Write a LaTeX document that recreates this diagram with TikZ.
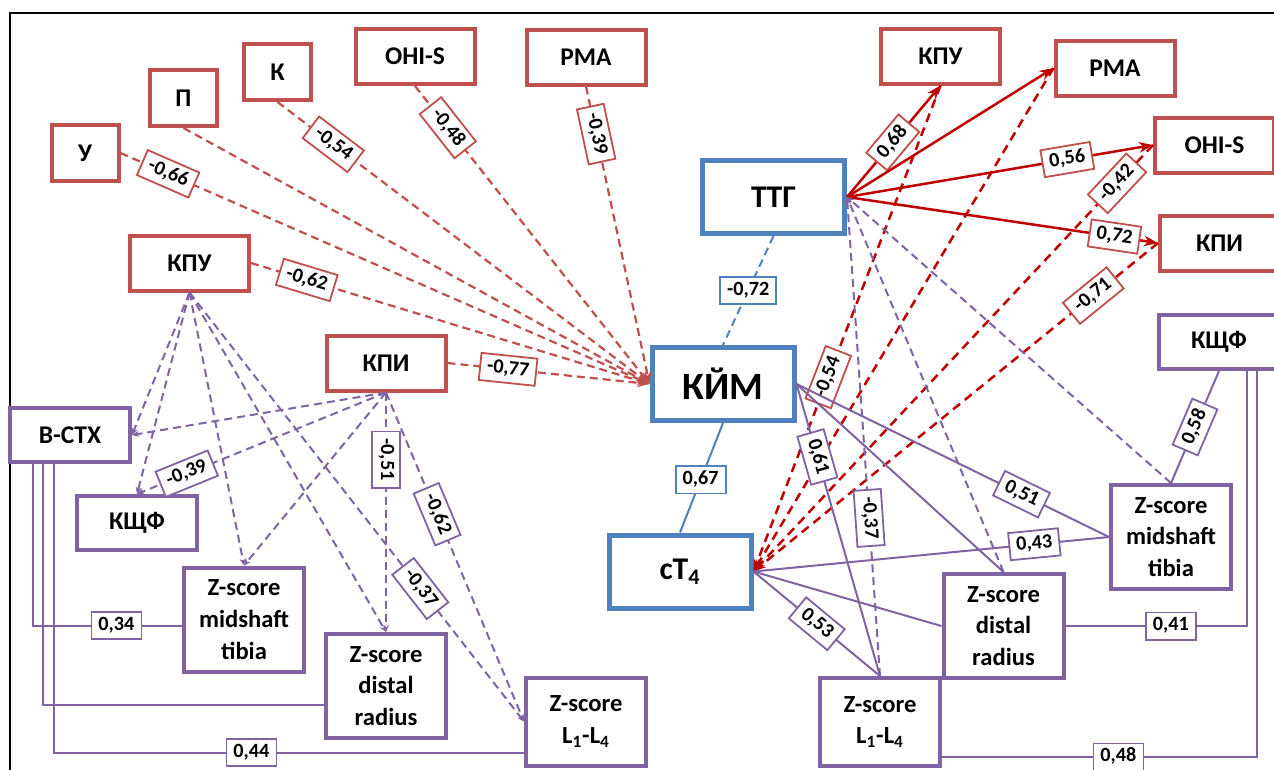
\documentclass[tikz,border=0pt]{standalone}
\usepackage{fontspec}
\setmainfont{Carlito}
\usetikzlibrary{positioning}
\usetikzlibrary{arrows.meta}
\usetikzlibrary{calc}

\newlength{\pxu}
\setlength{\pxu}{0.02cm}

\definecolor{boxred}{HTML}{C0504D}
\definecolor{boxblue}{HTML}{4F81BD}
\definecolor{boxviolet}{HTML}{8064A2}
\definecolor{linered}{HTML}{C00000}

\tikzset{
  redbox/.style={draw=boxred, line width=4\pxu, fill=white, inner sep=0pt,
    minimum width=119\pxu, minimum height=55\pxu,
    font=\bfseries\fontsize{14.5}{17}\selectfont},
  letterbox/.style={minimum width=67\pxu, minimum height=56\pxu},
  bluebox/.style={draw=boxblue, line width=5\pxu, fill=white, inner sep=0pt,
    minimum width=142\pxu, minimum height=73\pxu,
    font=\bfseries\fontsize{18}{22}\selectfont},
  violetbox/.style={draw=boxviolet, line width=4\pxu, fill=white, inner sep=0pt,
    align=center, minimum width=120\pxu, minimum height=54\pxu,
    font=\bfseries\fontsize{14.5}{17}\selectfont},
  zbox/.style={violetbox, minimum height=104\pxu,
    font=\bfseries\fontsize{14}{18}\selectfont},
  lumbox/.style={zbox, minimum height=88\pxu},
  coef/.style={solid, fill=white, line width=1.8\pxu, inner xsep=4pt, inner ysep=2.5pt,
    text height=8pt, text depth=2.5pt,
    font=\bfseries\fontsize{11.5}{13}\selectfont},
  redval/.style={coef, draw=boxred},
  blueval/.style={coef, draw=boxblue},
  violetval/.style={coef, draw=boxviolet},
  tokim/.style={draw=boxred, line width=2.2\pxu, dash pattern=on 8\pxu off 5\pxu,
    -{Stealth[length=7pt,width=5pt]}},
  fromttg/.style={draw=linered, line width=2.5\pxu,
    -{Stealth[length=8pt,width=6pt]}},
  toct/.style={draw=linered, line width=2.5\pxu, dash pattern=on 9\pxu off 6\pxu,
    -{Stealth[length=7pt,width=5pt]}},
  bluedash/.style={draw=boxblue, line width=2\pxu, dash pattern=on 8\pxu off 5\pxu},
  blueline/.style={draw=boxblue, line width=2\pxu},
  violetdash/.style={draw=boxviolet, line width=2\pxu, dash pattern=on 8\pxu off 5\pxu,
    -{Stealth[length=4pt,width=3.5pt]}},
  violetline/.style={draw=boxviolet, line width=2\pxu}
}

\begin{document}
\begin{tikzpicture}[x=0.02cm, y=-0.02cm]
  \useasboundingbox (0,0) rectangle (1274,769);
  \draw[line width=1.5\pxu] (10,13) rectangle (1320,820);

  \node[redbox, letterbox] (u) at (85,153) {У};
  \node[redbox, letterbox] (p) at (183.5,98) {П};
  \node[redbox, letterbox] (k) at (277.5,72) {К};
  \node[redbox] (ohis) at (415,56.5) {OHI-S};
  \node[redbox] (pma) at (586,57) {РМА};
  \node[redbox] (kpuL) at (189.5,263) {КПУ};
  \node[redbox] (kpiL) at (386,363) {КПИ};

  \node[redbox] (kpuR) at (940.5,56) {КПУ};
  \node[redbox] (pmaR) at (1115,68) {РМА};
  \node[redbox] (ohisR) at (1214.5,145) {OHI-S};
  \node[redbox] (kpiR) at (1219.5,243) {КПИ};

  \node[bluebox] (ttg) at (773.5,197) {ТТГ};
  \node[bluebox, font=\bfseries\fontsize{22}{26}\selectfont] (kim) at (723,384) {КЙМ};
  \node[bluebox] (ct4) at (680,571.5) {сТ\textsubscript{4}};

  \node[violetbox] (bctx) at (70,435) {B-CTX};
  \node[violetbox] (kshfL) at (137,523) {КЩФ};
  \node[zbox] (tibL) at (244,619.5) {Z-score\\midshaft\\tibia};
  \node[zbox] (radL) at (386,686) {Z-score\\distal\\radius};
  \node[lumbox] (lumL) at (586,721.5) {Z-score\\L\textsubscript{1}-L\textsubscript{4}};

  \node[violetbox] (kshfR) at (1219,342) {КЩФ};
  \node[zbox] (tibR) at (1171,537) {Z-score\\midshaft\\tibia};
  \node[zbox] (radR) at (1003.5,626) {Z-score\\distal\\radius};
  \node[lumbox] (lumR) at (880,722) {Z-score\\L\textsubscript{1}-L\textsubscript{4}};

  \draw[tokim] (u.east) -- node[redval, sloped, pos=0.09] {-0,66} (kim.west);
  \draw[tokim] (p.south) -- (kim.west);
  \draw[tokim] (k.south) -- node[redval, sloped, pos=0.15] {-0,54} (kim.west);
  \draw[tokim] (ohis.south) -- node[redval, sloped, pos=0.14] {-0,48} (kim.west);
  \draw[tokim] (pma.south) -- node[redval, sloped, pos=0.16] {-0,39} (kim.west);
  \draw[tokim] (kpuL.east) -- node[redval, sloped, pos=0.14] {-0,62} (kim.west);
  \draw[tokim] (kpiL.east) -- node[redval, sloped, pos=0.30] {-0,77} (kim.west);

  \draw[bluedash] (ttg.south) -- node[blueval, pos=0.5] {-0,72} (kim.north);
  \draw[blueline] (kim.south) -- node[blueval, pos=0.52] {0,67} (ct4.north);

  \draw[toct] (kpuR.south) -- node[redval, sloped, pos=0.60] {-0,54} (ct4.east);
  \draw[toct] (pmaR.west) -- (ct4.east);
  \draw[toct] (ohisR.west) -- node[redval, sloped, pos=0.09] {-0,42} (ct4.east);
  \draw[toct] (kpiR.west) -- node[redval, sloped, pos=0.16] {-0,71} (ct4.east);

  \draw[fromttg] (ttg.east) -- node[redval, sloped, pos=0.49] {0,68} (kpuR.south);
  \draw[fromttg] (ttg.east) -- (pmaR.west);
  \draw[fromttg] (ttg.east) -- node[redval, sloped, pos=0.72] {0,56} (ohisR.west);
  \draw[fromttg] (ttg.east) -- node[redval, sloped, pos=0.86] {0,72} (kpiR.west);

  \draw[violetdash] (tibR.north) -- (ttg.east);
  \draw[violetdash] (radR.north) -- (ttg.east);
  \draw[violetdash] (lumR.north) -- node[violetval, sloped, pos=0.33] {-0,37} (ttg.east);

  \draw[violetline] (kim.east) -- node[violetval, sloped, pos=0.72] {0,51} (tibR.west);
  \draw[violetline] (kim.east) -- (radR.north);
  \draw[violetline] (kim.east) -- node[violetval, sloped, pos=0.25] {0,61} (lumR.north);
  \draw[violetline] (ct4.east) -- node[violetval, sloped, pos=0.79] {0,43} (tibR.west);
  \draw[violetline] (ct4.east) -- (radR.west);
  \draw[violetline] (ct4.east) -- node[violetval, sloped, pos=0.50] {0,53} (lumR.north);
  \draw[violetline] (kshfR.south) -- node[violetval, sloped, pos=0.50] {0,58} (tibR.north);

  \draw[violetdash] (kpuL.south) -- (bctx.east);
  \draw[violetdash] (kpuL.south) -- (kshfL.north);
  \draw[violetdash] (kpuL.south) -- (tibL.north);
  \draw[violetdash] (kpuL.south) -- (radL.north);
  \draw[violetdash] (kpuL.south) -- node[violetval, sloped, pos=0.69] {-0,37} (lumL.west);
  \draw[violetdash] (kpiL.south) -- (bctx.east);
  \draw[violetdash] (kpiL.south) -- node[violetval, sloped, pos=0.80] {-0,39} (kshfL.north);
  \draw[violetdash] (kpiL.south) -- (tibL.north);
  \draw[violetdash] (kpiL.south) -- node[violetval, sloped, pos=0.28] {-0,51} (radL.north);
  \draw[violetdash] (kpiL.south) -- node[violetval, sloped, pos=0.37] {-0,62} (lumL.west);

  \draw[violetline] ([xshift=-37\pxu]bctx.south) |- node[violetval, pos=0.78] {0,34} ([yshift=-6\pxu]tibL.west);
  \draw[violetline] ([xshift=-27\pxu]bctx.south) |- ([yshift=-19\pxu]radL.west);
  \draw[violetline] ([xshift=-16\pxu]bctx.south) |- node[violetval, pos=0.71] {0,44} ([yshift=-31\pxu]lumL.west);
  \draw[violetline] ([xshift=28\pxu]kshfR.south) |- node[violetval, pos=0.71] {0,41} (radR.east);
  \draw[violetline] ([xshift=38\pxu]kshfR.south) |- node[violetval, pos=0.72] {0,48} ([yshift=-35\pxu]lumR.east);
\end{tikzpicture}
\end{document}
